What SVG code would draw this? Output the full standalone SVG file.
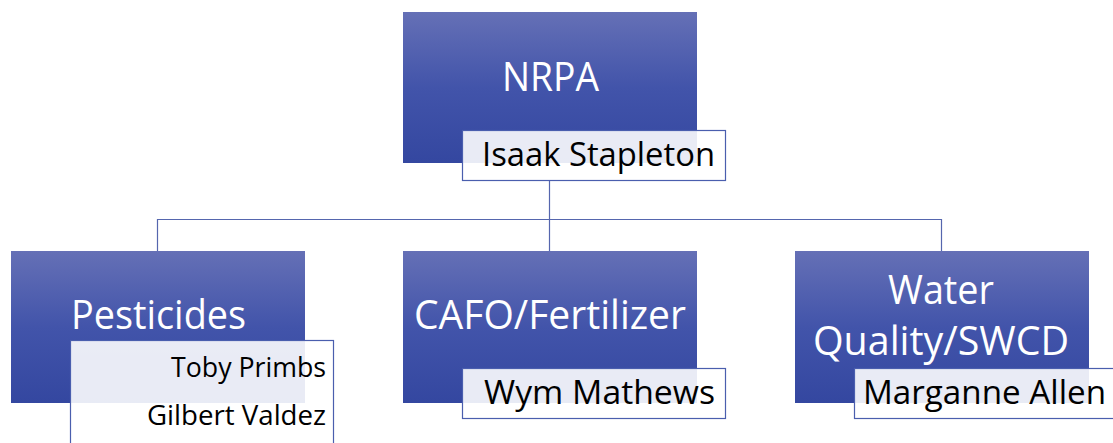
<svg xmlns="http://www.w3.org/2000/svg" width="1113" height="443" viewBox="0 0 1113 443">
<defs>
<linearGradient id="blue" x1="0" y1="0" x2="0" y2="1">
<stop offset="0" stop-color="#6570B6"/>
<stop offset="0.5" stop-color="#4254AA"/>
<stop offset="1" stop-color="#3447A0"/>
</linearGradient>
</defs>
<style>
.box{fill:url(#blue);}
.name{fill:#ffffff;fill-opacity:0.89;stroke:#4A5EAE;stroke-width:1.2;}
.t1{font-family:"Open Sans","Liberation Sans",sans-serif;font-size:40px;fill:#ffffff;}
.t2{font-family:"Open Sans","Liberation Sans",sans-serif;font-size:32px;fill:#000000;}
.t3{font-family:"Open Sans","Liberation Sans",sans-serif;font-size:28px;fill:#000000;}
.con{fill:none;stroke:#5566AE;stroke-width:1.2;}
</style>
<g id="connectors">
<path class="con" d="M549.5 180 V219.5 M157.5 251 V219.5 H941.5 V251 M549.5 219.5 V251"/>
</g>
<g id="node-nrpa">
<rect class="box" x="403" y="12" width="294" height="151"/>
<text class="t1" x="502" y="91" textLength="97" lengthAdjust="spacingAndGlyphs">NRPA</text>
<rect class="name" x="462.5" y="130.5" width="263" height="50"/>
<text class="t2" x="482" y="166" textLength="233" lengthAdjust="spacingAndGlyphs">Isaak Stapleton</text>
</g>
<g id="node-pesticides">
<rect class="box" x="11" y="251" width="294" height="152"/>
<text class="t1" x="71" y="329" textLength="175" lengthAdjust="spacingAndGlyphs">Pesticides</text>
<rect class="name" x="70.5" y="340.5" width="263" height="110"/>
<text class="t3" x="171" y="377" textLength="155" lengthAdjust="spacingAndGlyphs">Toby Primbs</text>
<text class="t3" x="147" y="425" textLength="179" lengthAdjust="spacingAndGlyphs">Gilbert Valdez</text>
</g>
<g id="node-cafo">
<rect class="box" x="403" y="251" width="294" height="152"/>
<text class="t1" x="414" y="329" textLength="272" lengthAdjust="spacingAndGlyphs">CAFO/Fertilizer</text>
<rect class="name" x="462.5" y="368.5" width="263" height="50"/>
<text class="t2" x="484" y="404" textLength="231" lengthAdjust="spacingAndGlyphs">Wym Mathews</text>
</g>
<g id="node-water">
<rect class="box" x="795" y="251" width="294" height="152"/>
<text class="t1" x="888" y="304" textLength="106" lengthAdjust="spacingAndGlyphs">Water</text>
<text class="t1" x="813" y="355" textLength="256" lengthAdjust="spacingAndGlyphs">Quality/SWCD</text>
<rect class="name" x="854.5" y="368.5" width="263" height="50"/>
<text class="t2" x="863" y="404" textLength="243" lengthAdjust="spacingAndGlyphs">Marganne Allen</text>
</g>
</svg>
